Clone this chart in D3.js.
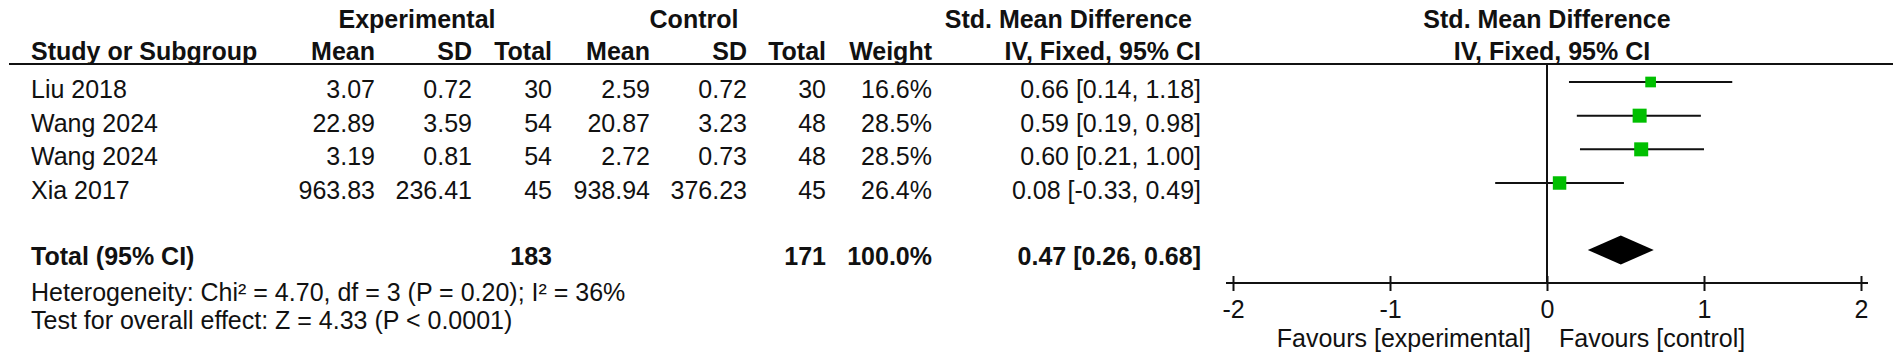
<!DOCTYPE html>
<html><head><meta charset="utf-8">
<script src="https://cdn.jsdelivr.net/npm/d3@7"></script>
<style>
html,body{margin:0;padding:0;background:#fff;}
svg{display:block;font-family:"Liberation Sans",Arial,sans-serif;}
</style></head>
<body>
<svg id="c" width="1902" height="363"></svg>
<script>
// ---- data ----
const studies = ["Liu 2018","Wang 2024","Wang 2024","Xia 2017"];
const expMean = [3.07, 22.89, 3.19, 963.83];
const expSD   = [0.72, 3.59, 0.81, 236.41];
const expN    = [30, 54, 54, 45];
const ctlMean = [2.59, 20.87, 2.72, 938.94];
const ctlSD   = [0.72, 3.23, 0.73, 376.23];
const ctlN    = [30, 48, 48, 45];
const weights = [16.6, 28.5, 28.5, 26.4];
const smd     = [0.66, 0.59, 0.60, 0.08];
const ciLow   = [0.14, 0.19, 0.21, -0.33];
const ciHigh  = [1.18, 0.98, 1.00, 0.49];
const total   = {label:"Total (95% CI)", expN:183, ctlN:171, weight:100.0, smd:0.47, lo:0.26, hi:0.68};
const hetText = "Heterogeneity: Chi² = 4.70, df = 3 (P = 0.20); I² = 36%";
const testText = "Test for overall effect: Z = 4.33 (P < 0.0001)";
const axisTicks = [-2, -1, 0, 1, 2];
const favLeft = "Favours [experimental]";
const favRight = "Favours [control]";

// ---- layout ----
const svg = d3.select("#c");
const FS = 25;
const green = "#00bf00";
const ink = "#111";

const x = d3.scaleLinear().domain([-2, 2]).range([1233, 1861]);
const rowY = d3.scaleLinear().domain([0, 3]).range([98, 199]); // text baselines
const markOff = 16;
const totalY = 265;
const axisY = 283;

const cols = {
  study: 31, expMean: 375, expSD: 472, expN: 552,
  ctlMean: 650, ctlSD: 747, ctlN: 826, weight: 932, ci: 1201
};

function txt(xp, yp, s, opt={}) {
  return svg.append("text").attr("x", xp).attr("y", yp)
    .attr("font-size", FS).attr("fill", ink)
    .attr("font-weight", opt.bold ? "bold" : "normal")
    .attr("text-anchor", opt.anchor || "start").text(s);
}
const f2 = v => (v < 0 ? "-" : "") + Math.abs(v).toFixed(2);
const f1 = v => v.toFixed(1);

// headers
txt(417, 28, "Experimental", {bold:true, anchor:"middle"});
txt(694, 28, "Control", {bold:true, anchor:"middle"});
txt(1192, 28, "Std. Mean Difference", {bold:true, anchor:"end"});
txt(x(0), 28, "Std. Mean Difference", {bold:true, anchor:"middle"});

const hy = 60;
txt(cols.study, hy, "Study or Subgroup", {bold:true});
txt(cols.expMean, hy, "Mean", {bold:true, anchor:"end"});
txt(cols.expSD, hy, "SD", {bold:true, anchor:"end"});
txt(cols.expN, hy, "Total", {bold:true, anchor:"end"});
txt(cols.ctlMean, hy, "Mean", {bold:true, anchor:"end"});
txt(cols.ctlSD, hy, "SD", {bold:true, anchor:"end"});
txt(cols.ctlN, hy, "Total", {bold:true, anchor:"end"});
txt(cols.weight, hy, "Weight", {bold:true, anchor:"end"});
txt(cols.ci, hy, "IV, Fixed, 95% CI", {bold:true, anchor:"end"});
txt(x(0) + 5, hy, "IV, Fixed, 95% CI", {bold:true, anchor:"middle"});

svg.append("line").attr("x1", 9).attr("x2", 1893).attr("y1", 64).attr("y2", 64)
  .attr("stroke", ink).attr("stroke-width", 2);

// rows
studies.forEach((s, i) => {
  const y = rowY(i);
  txt(cols.study, y, s);
  txt(cols.expMean, y, f2(expMean[i]), {anchor:"end"});
  txt(cols.expSD, y, f2(expSD[i]), {anchor:"end"});
  txt(cols.expN, y, expN[i], {anchor:"end"});
  txt(cols.ctlMean, y, f2(ctlMean[i]), {anchor:"end"});
  txt(cols.ctlSD, y, f2(ctlSD[i]), {anchor:"end"});
  txt(cols.ctlN, y, ctlN[i], {anchor:"end"});
  txt(cols.weight, y, f1(weights[i]) + "%", {anchor:"end"});
  txt(cols.ci, y, `${f2(smd[i])} [${f2(ciLow[i])}, ${f2(ciHigh[i])}]`, {anchor:"end"});
});

// total row
txt(cols.study, totalY, total.label, {bold:true});
txt(cols.expN, totalY, total.expN, {bold:true, anchor:"end"});
txt(cols.ctlN, totalY, total.ctlN, {bold:true, anchor:"end"});
txt(cols.weight, totalY, f1(total.weight) + "%", {bold:true, anchor:"end"});
txt(cols.ci, totalY, `${f2(total.smd)} [${f2(total.lo)}, ${f2(total.hi)}]`, {bold:true, anchor:"end"});

txt(cols.study, 301, hetText);
txt(cols.study, 329, testText);

// zero line
svg.append("line").attr("x1", x(0)).attr("x2", x(0)).attr("y1", 64).attr("y2", axisY)
  .attr("stroke", ink).attr("stroke-width", 2);

// CI lines and squares
const sizeK = 14 / Math.sqrt(28.5);
studies.forEach((s, i) => {
  const cy = rowY(i) - markOff;
  svg.append("line").attr("x1", x(ciLow[i])).attr("x2", x(ciHigh[i]))
    .attr("y1", cy).attr("y2", cy).attr("stroke", ink).attr("stroke-width", 2);
  const sz = sizeK * Math.sqrt(weights[i]);
  svg.append("rect").attr("x", x(smd[i]) - sz/2).attr("y", cy - sz/2)
    .attr("width", sz).attr("height", sz).attr("fill", green);
});

// diamond
const dy = totalY - 15;
svg.append("path")
  .attr("d", `M${x(total.lo)},${dy} L${x(total.smd)},${dy-14.5} L${x(total.hi)},${dy} L${x(total.smd)},${dy+14.5} Z`)
  .attr("fill", "#000");

// axis
const ax = svg.append("g").attr("transform", `translate(0,${axisY})`)
  .call(d3.axisBottom(x).tickValues(axisTicks).tickSize(8).tickFormat(d => (d < 0 ? "-" : "") + Math.abs(d)));
ax.select(".domain").remove();
ax.selectAll(".tick line").attr("y1", -7).attr("y2", 8).attr("stroke", ink).attr("stroke-width", 2);
ax.selectAll(".tick text").attr("y", 35).attr("dy", null)
  .attr("font-size", FS).attr("fill", ink).attr("font-family", '"Liberation Sans",Arial,sans-serif');
svg.append("line").attr("x1", x(-2) - 7).attr("x2", x(2) + 7).attr("y1", axisY).attr("y2", axisY)
  .attr("stroke", ink).attr("stroke-width", 2);

txt(x(0) - 16, 347, favLeft, {anchor:"end"});
txt(x(0) + 12, 347, favRight);
</script>
</body></html>
